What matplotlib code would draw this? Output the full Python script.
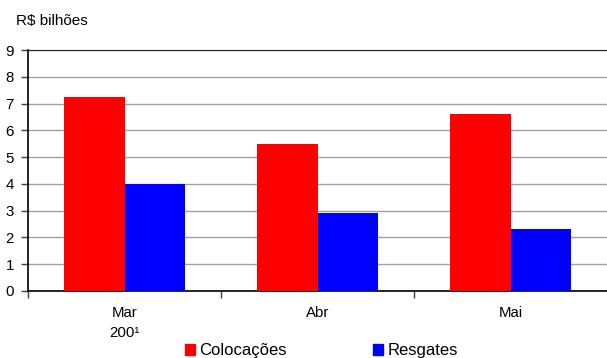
import matplotlib
matplotlib.use("Agg")
import matplotlib.pyplot as plt
import numpy as np
from matplotlib.patches import Patch

plt.rcParams['font.family'] = ['Liberation Sans', 'DejaVu Sans']

months = ["Mar\n200¹", "Abr", "Mai"]
colocacoes = [7.25, 5.5, 6.6]
resgates = [4.0, 2.9, 2.3]
y_ticks = list(range(0, 10))

fig = plt.figure(figsize=(6.07, 3.58), dpi=100)
ax = fig.add_axes([28 / 607, 67 / 358, 579 / 607, 241 / 358])

x = np.arange(len(months))
w = 0.316
ax.bar(x - w / 2, colocacoes, w, color="#ff0000", zorder=3)
ax.bar(x + w / 2, resgates, w, color="#0000ff", zorder=3)

ax.set_xlim(-0.5, 2.5)
ax.set_ylim(0, 9)
ax.set_yticks(y_ticks)
ax.yaxis.grid(True, color="#a0a0a0", linewidth=1.0, zorder=0)
ax.set_axisbelow(True)

# category ticks at the boundaries, labels centred under each group
ax.set_xticks([-0.5, 0.5, 1.5], minor=False)
ax.set_xticklabels([])
ax.set_xticks(x, minor=True)
ax.set_xticklabels(months, minor=True, fontsize=10.8, va="top", linespacing=1.55)
ax.tick_params(axis="x", which="minor", length=0, pad=11)
ax.tick_params(axis="x", which="major", length=5, width=1, color="#404040", direction="out")
ax.tick_params(axis="y", length=5, width=1, color="#404040", direction="out", labelsize=10.8, pad=5)

ax.spines["right"].set_visible(False)
ax.spines["top"].set_color("#202020")
ax.spines["left"].set_color("black")
ax.spines["bottom"].set_color("black")
ax.spines["left"].set_linewidth(1.2)
ax.spines["bottom"].set_linewidth(1.2)

fig.text(16 / 607, 1 - 21 / 358, "R$ bilhões", fontsize=11, va="center", ha="left")

handles = [Patch(color="#ff0000", label="Colocações"), Patch(color="#0000ff", label="Resgates")]
fig.legend(handles=handles, loc="center", bbox_to_anchor=(0.529, 0.02), ncol=2,
           frameon=False, fontsize=12, handlelength=0.6, handleheight=0.6,
           handletextpad=0.25, columnspacing=5.2, borderpad=0)

fig.savefig("out.png", dpi=100)
